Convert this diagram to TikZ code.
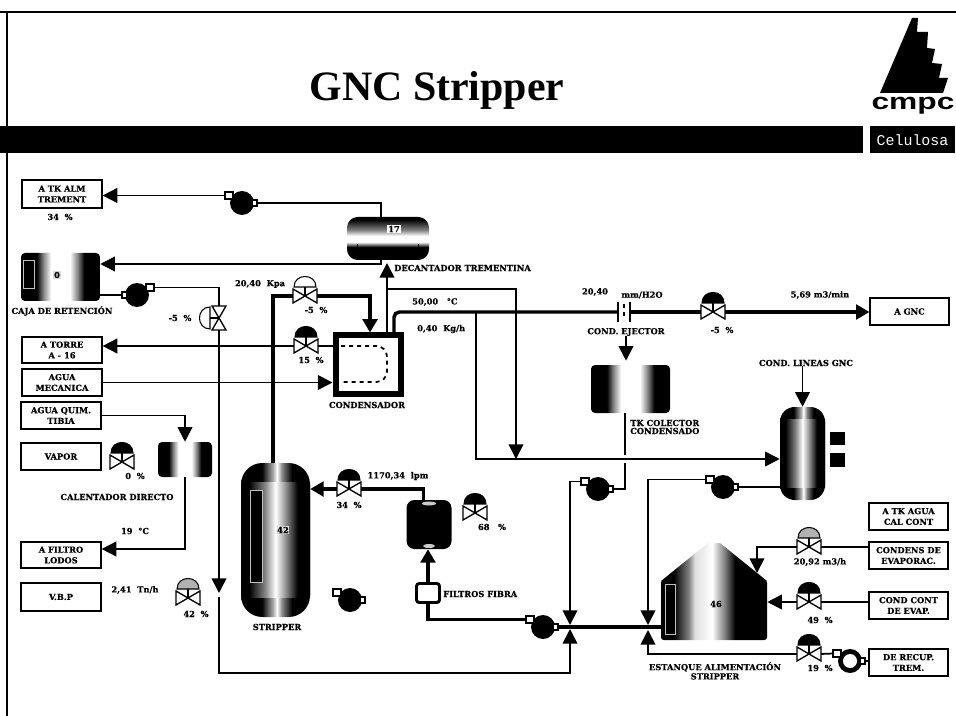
\documentclass[tikz,border=0pt]{standalone}
\usepackage{fontspec}
\usetikzlibrary{arrows.meta}
\newfontfamily\dvserif[BoldFeatures={FakeBold=0.4}]{DejaVu Serif}
\newfontfamily\libserif{Liberation Serif}
\newfontfamily\libsans{Liberation Sans}
\newfontfamily\libmono{Liberation Mono}
\newcommand{\lblfont}{\dvserif\bfseries\fontsize{6.2}{8}\selectfont}
\pgfdeclarehorizontalshading{bodyshade}{100bp}{color(0bp)=(black); color(31bp)=(black); color(42bp)=(gray); color(50bp)=(white); color(56bp)=(gray!70); color(66bp)=(black); color(100bp)=(black)}
\pgfdeclarehorizontalshading{headshade}{100bp}{color(0bp)=(black); color(40bp)=(black); color(48bp)=(gray!70); color(51bp)=(white); color(55bp)=(gray); color(62bp)=(black); color(100bp)=(black)}
\pgfdeclarehorizontalshading{drumshade}{100bp}{color(0bp)=(black); color(35bp)=(black); color(39bp)=(gray); color(44bp)=(white); color(56bp)=(white); color(61bp)=(gray); color(65bp)=(black); color(100bp)=(black)}
\pgfdeclarehorizontalshading{estshade}{100bp}{color(0bp)=(black); color(31bp)=(black); color(38bp)=(gray); color(41bp)=(gray!25); color(49bp)=(white); color(55bp)=(gray); color(60bp)=(black); color(100bp)=(black)}
\pgfdeclareverticalshading{decshade}{100bp}{color(0bp)=(black); color(40bp)=(black); color(46bp)=(white); color(53bp)=(white); color(60bp)=(gray); color(72bp)=(black); color(100bp)=(black)}
\begin{document}
\begin{tikzpicture}[x=0.75pt, y=-0.75pt,
    wh/.style 2 args={minimum width=#1*0.75pt, minimum height=#2*0.75pt, inner sep=0pt},
    lab/.style={font=\lblfont, inner sep=0pt, align=center},
    box/.style={lab, draw, fill=white, line width=0.9pt},
    tank/.style={shade, shading=#1, inner sep=0pt},
    lev/.style={fill=black, draw=gray!50, line width=0.6pt, inner sep=0pt},
    lin/.style={line width=1.3pt},
    flow/.style={lin, -{Triangle[length=11pt,width=11pt]}},
    thk/.style={line width=2.6pt},
    thkflow/.style={thk, -{Triangle[length=10pt,width=11pt]}},
    valve/.pic={
        \draw[line width=1pt, fill=white] (-12,-7)--(12,7)--(12,-7)--(-12,7)--cycle;
        \draw[line width=1pt] (0,0)--(0,-9);
        \draw[line width=0.8pt, fill=#1] (-11,-9) .. controls (-11,-23) and (11,-23) .. (11,-9) -- cycle;
        \coordinate (-l) at (-12,0);
        \coordinate (-r) at (12,0);
    },
    pump/.pic={
        \fill (0,0) circle (12);
        \fill[#1] (0,0) circle (7);
        \draw[line width=0.8pt, fill=white] (-17,-11) rectangle (-9,-4);
        \draw[line width=0.8pt, fill=white] (10,-3) rectangle (15,3);
        \coordinate (-top) at (-17,-7.5);
        \coordinate (-side) at (15,0);
    },
    ejector/.pic={
        \draw[line width=1.6pt] (-6,-10)--(-6,10);
        \draw[line width=1.6pt] (6,-10)--(6,10);
        \draw[line width=1pt, dashed] (0,-8)--(0,8);
        \coordinate (-l) at (-6,0);
        \coordinate (-r) at (6,0);
    }
]
\useasboundingbox (0,0) rectangle (956,716);

% frame and heading
\draw[line width=2.2pt] (0,12) -- (956,12);
\draw[line width=2pt] (7,12) -- (7,716);
\fill (0,126) rectangle (863,153);
\node[font=\libserif\bfseries\fontsize{31.4}{34}\selectfont, inner sep=0pt] (title) at (437,90) {GNC Stripper};
\fill (912,18) -- (918,18) -- (917,32) -- (928,32) -- (927,48) -- (935,49) -- (932,63) -- (942,64) -- (939,78) -- (948,78) -- (943,93) -- (880,93) -- cycle;
\node[font=\libsans\bfseries\fontsize{23.8}{24}\selectfont, inner sep=0pt, yscale=0.72, transform shape] (cmpc) at (913,106) {cmpc};
\node[fill=black, text=white, wh={85}{27}, font=\libmono\fontsize{11.2}{12}\selectfont] (celulosa) at (912.5,140) {Celulosa};

% boxes
\node[box, wh={80}{28}] (altk) at (62,194) {A  TK ALM\\TREMENT};
\node[box, wh={80}{26}] (atorre) at (62,350) {A TORRE\\A - 16};
\node[box, wh={80}{27}] (agmec) at (62,382.5) {AGUA\\MECANICA};
\node[box, wh={80}{27}] (agqt) at (61,415.5) {AGUA QUIM.\\TIBIA};
\node[box, wh={80}{27}] (vapor) at (61,456.5) {VAPOR};
\node[box, wh={80}{26}] (afiltro) at (61,555) {A FILTRO\\LODOS};
\node[box, wh={80}{28}] (vbp) at (61,597) {V.B.P};
\node[box, wh={79}{27}] (gnc) at (909.5,311.5) {A GNC};
\node[box, wh={79}{27}] (atk) at (908.5,516.5) {A TK AGUA\\CAL CONT};
\node[box, wh={79}{27}] (cde) at (908.5,555.5) {CONDENS DE\\EVAPORAC.};
\node[box, wh={79}{27}] (cce) at (908.5,605.5) {COND CONT\\DE EVAP.};
\node[box, wh={79}{27}] (drt) at (908.5,662.5) {DE RECUP.\\TREM.};

% tanks
\node[tank=decshade, wh={82}{43}, rounded corners=8pt] (dec) at (388,238.5) {};
\draw[line width=0.7pt] (357,244) -- (357,252);
\draw[line width=0.7pt] (418,244) -- (418,252);
\node[tank=drumshade, wh={79}{48}, rounded corners=3pt] (caja) at (60.5,277) {};
\node[tank=drumshade, wh={54}{35}, rounded corners=3pt] (calent) at (185,459.5) {};
\node[tank=drumshade, wh={79}{48}, rounded corners=3pt] (tkcol) at (630.5,389) {};
\node[tank=headshade, wh={69}{154}, rounded corners=16pt] (strip) at (275.5,540) {};
\node[tank=bodyshade, wh={69}{115}] (stripb) at (275.5,540) {};
\node[tank=headshade, wh={45}{93}, rounded corners=11pt] (rv) at (802.5,453.5) {};
\node[tank=bodyshade, wh={45}{68}] (rvb) at (802.5,453.5) {};
\node[fill=black, wh={45}{49}, rounded corners=6pt] (svs) at (429,524.5) {};
\fill[gray!40] (429,503.5) ellipse (7 and 2);
\fill[gray!40] (429,546) ellipse (6 and 2);
\node[tank=estshade, wh={106}{60}, rounded corners=2pt] (est) at (714,610) {};
\shade[shading=estshade] (661,581) -- (708,543) -- (720,543) -- (767,581) -- cycle;
\node[draw, line width=4.5pt, fill=white, wh={65}{58}] (cond) at (368,364.5) {};
\draw[line width=1.3pt, dashed, rounded corners=8pt] (341,346) -- (387,346) -- (387,382) -- (341,382);
\node[draw, line width=2.2pt, fill=white, rounded corners=2pt, wh={23}{19}] (filt) at (428,593) {};
\node[fill=black, wh={15}{13}] (sq1) at (837.5,438) {};
\node[fill=black, wh={15}{14}] (sq2) at (837.5,460) {};
\node[lev, wh={11}{28}] (levcaja) at (29,274) {};
\node[lev, wh={12}{92}] (levstrip) at (256,536) {};
\node[lev, wh={10}{50}] (levest) at (670,609) {};

% pumps and valves
\pic (ptrem) at (242,203) {pump=black};
\pic[xscale=-1] (pcaja) at (137,295) {pump=black};
\pic (pstrip) at (350,600) {pump=black};
\pic (pcol) at (598,489) {pump=black};
\pic (prv) at (723,487) {pump=black};
\pic (pmain) at (543,627) {pump=black};
\pic (prc) at (850,661) {pump=white};
\pic (vov) at (305,296) {valve=white};
\pic (vto) at (306,346) {valve=black};
\pic[rotate=90] (vby) at (219,318) {valve=white};
\pic (vvap) at (122,462) {valve=black};
\pic (vvbp) at (188,598) {valve=gray!60};
\pic (vfc) at (349,489) {valve=black};
\pic (vfl) at (475,513) {valve=black};
\pic (vej) at (713,312) {valve=black};
\pic (va) at (809,547) {valve=gray!60};
\pic (vb) at (809,602) {valve=black};
\pic (vc) at (809,654) {valve=black};
\pic (ej) at (624,312) {ejector};

% labels
\node[lab] (l34) at (60,217) {34 ~\%};
\node[lab, fill=gray!30, inner sep=1pt] (lcaja0) at (57,275) {0};
\node[lab] (lcaja) at (62,311) {CAJA DE RETENCIÓN};
\node[lab] (lby) at (180,318) {-5 ~\%};
\node[lab] (lkpa) at (260,284) {20,40 ~Kpa};
\node[lab] (lov) at (316,310) {-5 ~\%};
\node[lab] (lto) at (311,360) {15 ~\%};
\node[lab, fill=white, inner sep=1pt] (l17) at (394,229) {17};
\node[lab, anchor=west] (ldec) at (394,268) {DECANTADOR TREMENTINA};
\node[lab] (lcond) at (367,405) {CONDENSADOR};
\node[lab, anchor=west] (ltemp) at (412,302) {50,00 ~~°C};
\node[lab, anchor=west] (lkg) at (417,329) {0,40 ~Kg/h};
\node[lab] (lmm) at (595,292) {20,40};
\node[lab] (lh2o) at (642,295) {mm/H2O};
\node[lab] (lejec) at (626,332) {COND. EJECTOR};
\node[lab] (lvej) at (722,330) {-5 ~\%};
\node[lab] (lm3) at (820,295) {5,69 m3/min};
\node[lab, anchor=west] (ltkc) at (630,427) {TK COLECTOR\\[-2pt]CONDENSADO};
\node[lab] (llin) at (806,363) {COND. LINEAS GNC};
\node[lab] (lvap) at (135,476) {0 ~\%};
\node[lab] (lcal) at (117,497) {CALENTADOR DIRECTO};
\node[lab] (l19c) at (135,531) {19 ~°C};
\node[lab] (ltn) at (135,590) {2,41 ~Tn/h};
\node[lab] (lvbp) at (196,614) {42 ~\%};
\node[lab, fill=gray!30, inner sep=0.5pt] (l42) at (283,530) {42};
\node[lab] (lstrip) at (277,627) {STRIPPER};
\node[lab] (llpm) at (398,476) {1170,34 ~lpm};
\node[lab] (lfc) at (349,505) {34 ~\%};
\node[lab] (lfl) at (492,527) {68 ~~\%};
\node[lab, anchor=west] (lfilt) at (443,594) {FILTROS FIBRA};
\node[lab] (l46) at (716,604) {46};
\node[lab] (lva) at (820,562) {20,92 m3/h};
\node[lab] (lvb) at (820,620) {49 ~\%};
\node[lab] (lvc) at (820,668) {19 ~\%};
\node[lab] (lest) at (715,671) {ESTANQUE ALIMENTACIÓN\\[-1pt]STRIPPER};

% junctions
\coordinate (jdec) at (381,264);
\coordinate (jin) at (387,263);
\coordinate (jbr) at (516,289);
\coordinate (jmain) at (516,459);
\coordinate (joff) at (394,312);
\coordinate (jvap) at (476,312);
\coordinate (jcol1) at (625,455);
\coordinate (jcol2) at (625,463);
\coordinate (jcol) at (625,489);
\coordinate (jmixa) at (570,625);
\coordinate (jmixb) at (570,629);
\coordinate (jtka) at (648,625);
\coordinate (jtkb) at (648,630);
\coordinate (jby) at (219,593);
\coordinate (jbyb) at (219,597);
\coordinate (jbot) at (570,673);
\coordinate (jfil) at (184,549);
\coordinate (jroof) at (757,573);

% lines
\draw[flow] (ptrem-top) -- (altk.east |- ptrem-top);
\draw[lin] (ptrem-side) -| ([xshift=-5pt]dec.north);
\draw[flow] ([xshift=-5pt]dec.south) |- (jdec -| caja.east);
\draw[flow] (jin |- cond.north) -- (jin);
\draw[flow] (jin |- jbr) -| (jmain);
\draw[lin] (pcaja-side -| caja.east) -- (pcaja-side);
\draw[lin] (pcaja-top) -| (vby-r);
\draw[flow] (vby-l) -- (jby);
\draw[flow] (jbyb) |- (jbot) -- (jmixb);
\draw[thk] ([xshift=-2pt]strip.north) |- (vov-l);
\draw[thkflow] (vov-r) -| ([xshift=1.5pt]cond.north);
\draw[flow] (vto-l) -- (atorre.east |- vto-l);
\draw[lin] (vto-r) -- (vto-r -| cond.west);
\draw[flow] (agmec.east) -- (agmec.east -| cond.west);
\draw[flow] (agqt.east) -| (calent.north);
\draw[flow] (calent.south) |- (jfil -| afiltro.east);
\draw[thk, rounded corners=4pt] (joff |- cond.north) -- (joff) -- (ej-l);
\draw[thk] (ej-r) -- (vej-l);
\draw[thkflow] (vej-r) -- (vej-r -| gnc.west);
\draw[flow] (lejec.south) -- ([yshift=3pt]lejec.south |- tkcol.north);
\draw[flow] (rv.north |- llin.south) -- (rv.north);
\draw[flow] (jvap) |- (jmain -| rv.west);
\draw[lin] (jcol1 |- tkcol.south) -- (jcol1);
\draw[lin] (jcol2) -- (jcol) -- (pcol-side);
\draw[flow] (pcol-top) -| (jmixa);
\draw[lin] (prv-side) -- (prv-side -| rv.west);
\draw[flow] (prv-top) -| (jtka);
\draw[thk] (pmain-top) -| (filt.south);
\draw[thk] (pmain-side) -- (pmain-side -| est.west);
\draw[thkflow] (filt.north) -- (filt.north |- svs.south);
\draw[thk] ([xshift=-4pt]svs.north) |- (vfc-r);
\draw[thkflow] (vfc-l) -- (vfc-l -| strip.east);
\draw[lin] (va-r) -- (va-r -| cde.west);
\draw[flow] (va-l) -| (jroof);
\draw[lin] (vb-r) -- (vb-r -| cce.west);
\draw[flow] (vb-l) -- (vb-l -| est.east);
\draw[lin] (vc-r) -- (prc-top);
\draw[lin] (prc-side) -- (prc-side -| drt.west);
\draw[flow] (vc-l) -| (jtkb);
\end{tikzpicture}
\end{document}
